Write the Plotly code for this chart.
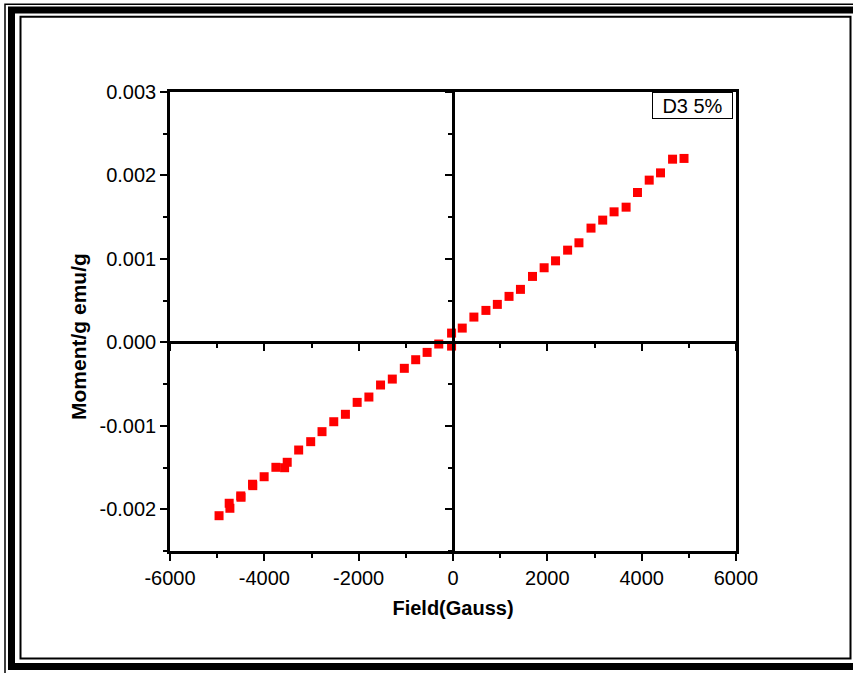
import plotly.graph_objects as go

# ---- data ----
field = [-4960, -4745, -4730, -4494, -4500, -4245, -4250, -4004, -3755, -3570, -3515,
         -3272, -3017, -2777, -2528, -2281, -2032, -1783, -1536, -1287, -1032,
         -791, -549, -302, -30, -30,
         196, 443, 698, 940, 1188, 1430, 1685, 1932, 2174, 2430, 2670,
         2926, 3174, 3415, 3670, 3911, 4160, 4400, 4655, 4898]
moment = [-0.002077, -0.001928, -0.001988, -0.001856, -0.001840, -0.001717, -0.001700,
          -0.001610, -0.001497, -0.001502, -0.001437,
          -0.001290, -0.001190, -0.001070, -0.000951, -0.000862, -0.000719, -0.000655,
          -0.000511, -0.000440, -0.000311,
          -0.000208, -0.000120, -0.000020, -0.000045, 0.000111,
          0.000171, 0.000303, 0.000383, 0.000455, 0.000551, 0.000635, 0.000790,
          0.000894, 0.000977, 0.001105, 0.001193,
          0.001369, 0.001465, 0.001564, 0.001620, 0.001796, 0.001944, 0.002031,
          0.002195, 0.002204]

x_range = [-6000, 6000]
y_range = [-0.0025, 0.003]
x_ticks = [-6000, -4000, -2000, 0, 2000, 4000, 6000]
x_tick_text = ["-6000", "-4000", "-2000", "0", "2000", "4000", "6000"]
y_ticks = [-0.002, -0.001, 0.0, 0.001, 0.002, 0.003]
y_tick_text = ["-0.002", "-0.001", "0.000", "0.001", "0.002", "0.003"]
legend_text = "D3 5%"
x_title = "Field(Gauss)"
y_title = "Moment/g emu/g"

FONT = "Liberation Sans, Arial, sans-serif"
W, H = 853, 673
ML, MR, MT, MB = 170, 117, 92, 122
PW, PH = W - ML - MR, H - MT - MB


def px(xp):
    return (xp - ML) / PW


def py(yp):
    return (H - MB - yp) / PH


fig = go.Figure()
fig.add_trace(go.Scatter(
    x=field, y=moment, mode="markers",
    marker=dict(symbol="square", size=9, color="#ff0000", line=dict(width=0)),
    showlegend=False,
))
# empty trace to activate the zero-position axes
fig.add_trace(go.Scatter(x=[], y=[], xaxis="x2", yaxis="y2", showlegend=False))

axis_common = dict(
    showgrid=False, zeroline=False, showline=True, linecolor="black", linewidth=2.5,
    ticks="outside", ticklen=7, tickwidth=2, tickcolor="black",
    tickfont=dict(family=FONT, size=20, color="black"),
)

fig.update_layout(
    width=W, height=H,
    margin=dict(l=ML, r=MR, t=MT, b=MB, autoexpand=False),
    paper_bgcolor="white", plot_bgcolor="white",
    xaxis=dict(
        **axis_common, range=x_range, tickvals=x_ticks, ticktext=x_tick_text, mirror=True,
        minor=dict(dtick=1000, ticks="outside", ticklen=4, tickwidth=2, tickcolor="black"),
        title=dict(text="<b>" + x_title + "</b>", font=dict(family=FONT, size=20, color="black"), standoff=14),
    ),
    yaxis=dict(
        **axis_common, range=y_range, tickvals=y_ticks, ticktext=y_tick_text, mirror=True,
        minor=dict(dtick=0.0005, tick0=0, ticks="outside", ticklen=4, tickwidth=2, tickcolor="black"),
    ),
    xaxis2=dict(
        **axis_common, range=x_range, tickvals=x_ticks, overlaying="x", anchor="free",
        position=(0 - y_range[0]) / (y_range[1] - y_range[0]), showticklabels=False,
        minor=dict(dtick=1000, ticks="outside", ticklen=4, tickwidth=2, tickcolor="black"),
    ),
    yaxis2=dict(
        **axis_common, range=y_range, tickvals=y_ticks, overlaying="y", anchor="free",
        position=(0 - x_range[0]) / (x_range[1] - x_range[0]), side="left", showticklabels=False,
        minor=dict(dtick=0.0005, tick0=0, ticks="outside", ticklen=4, tickwidth=2, tickcolor="black"),
    ),
    annotations=[
        dict(
            text=legend_text, xref="paper", yref="paper", x=px(733), y=1.0,
            xanchor="right", yanchor="top", showarrow=False,
            font=dict(family=FONT, size=20, color="black"),
            bordercolor="black", borderwidth=1, borderpad=1, bgcolor="white",
            width=77, height=23,
        ),
        dict(
            text="<b>" + y_title + "</b>", xref="paper", yref="paper", x=px(78), y=py(337),
            xanchor="center", yanchor="middle", showarrow=False, textangle=-90,
            font=dict(family=FONT, size=21, color="black"),
        ),
    ],
    shapes=[
        # outer thin line
        dict(type="rect", xref="paper", yref="paper", x0=px(5), x1=px(870), y0=py(4.3), y1=py(690),
             line=dict(color="black", width=1.5)),
        # thick band
        dict(type="rect", xref="paper", yref="paper", x0=px(11.5), x1=px(862), y0=py(10), y1=py(666.5),
             line=dict(color="black", width=7)),
        # inner thin line
        dict(type="rect", xref="paper", yref="paper", x0=px(20.5), x1=px(850.5), y0=py(16.7), y1=py(658.5),
             line=dict(color="black", width=2)),
    ],
)

fig.write_html("out.html")
